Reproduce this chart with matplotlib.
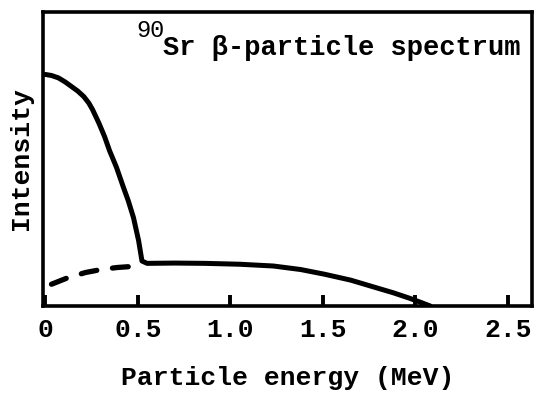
import matplotlib.pyplot as plt

# solid spectrum (energy in MeV, intensity in axis fraction)
energy = [0.0, 0.033, 0.07, 0.107, 0.14, 0.175, 0.208, 0.235, 0.255, 0.29, 0.32,
          0.347, 0.384, 0.421, 0.448, 0.476, 0.504, 0.522, 0.55, 0.70, 0.863,
          1.05, 1.232, 1.38, 1.509, 1.65, 1.786, 1.88, 1.97, 2.03, 2.08]
intensity = [0.7875, 0.784, 0.776, 0.762, 0.747, 0.731, 0.712, 0.69, 0.668, 0.621, 0.576,
             0.528, 0.472, 0.405, 0.358, 0.301, 0.222, 0.153, 0.145, 0.146, 0.145,
             0.142, 0.136, 0.124, 0.108, 0.088, 0.0625, 0.045, 0.026, 0.012, 0.0]

# dashed low-energy branch
dash_energy = [0.033, 0.125, 0.218, 0.31, 0.39, 0.458]
dash_intensity = [0.074, 0.097, 0.114, 0.125, 0.131, 0.134]

xticks = [0, 0.5, 1.0, 1.5, 2.0, 2.5]
xticklabels = ['0', '0.5', '1.0', '1.5', '2.0', '2.5']

plt.rcParams['font.family'] = ['Liberation Mono', 'DejaVu Sans Mono']
plt.rcParams['font.weight'] = 'bold'
plt.rcParams['axes.labelweight'] = 'bold'

fig = plt.figure(figsize=(5.36, 3.93), dpi=100)
ax = fig.add_axes([0.080, 0.2214, 0.9125, 0.7481])

ax.plot(energy, intensity, color='black', lw=3.6,
        solid_joinstyle='round', solid_capstyle='round')
ax.plot(dash_energy, dash_intensity, color='black', lw=3.8,
        linestyle=(0, (3, 3)), dash_capstyle='round')

ax.set_xlim(-0.0135, 2.63)
ax.set_ylim(0, 1)
ax.set_xticks(xticks)
ax.set_xticklabels(xticklabels, fontsize=19)
ax.set_yticks([])
ax.tick_params(axis='x', direction='in', length=8, width=2.8, pad=9)
for sp in ax.spines.values():
    sp.set_linewidth(2.6)

ax.set_xlabel('Particle energy (MeV)', fontsize=19, labelpad=17)
ax.set_ylabel('Intensity', fontsize=19, labelpad=7)

title = ax.text(0.9775, 0.854, 'Sr \u03b2-particle spectrum', transform=ax.transAxes,
                ha='right', va='baseline', fontsize=19.5)
ax.annotate('90', xy=(0, 1), xycoords=title, xytext=(1, -5), textcoords='offset points',
            ha='right', va='bottom', fontsize=17, fontweight='normal')

plt.savefig('out.png', dpi=100)
